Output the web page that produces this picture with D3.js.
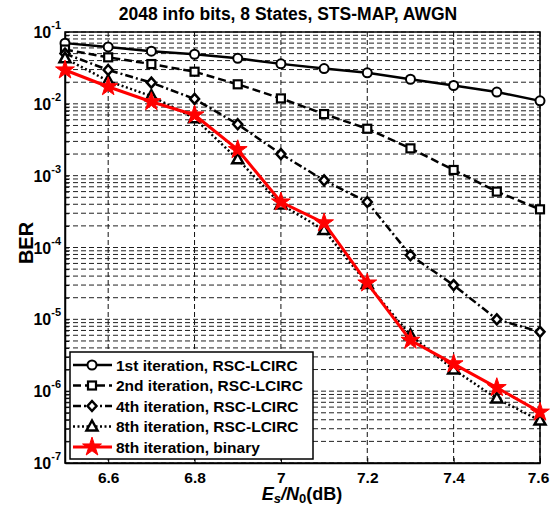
<!DOCTYPE html>
<html>
<head>
<meta charset="utf-8">
<script src="https://cdn.jsdelivr.net/npm/d3@7"></script>
<style>
  body { margin: 0; background: #fff; }
  text { font-family: "Liberation Sans", Arial, sans-serif; font-weight: bold; }
</style>
</head>
<body>
<div id="chart"></div>
<script>
// Es/N0 values (dB)
var snr = [6.5, 6.6, 6.7, 6.8, 6.9, 7.0, 7.1, 7.2, 7.3, 7.4, 7.5, 7.6];

var berIter1 = [0.070, 0.062, 0.054, 0.049, 0.043, 0.036, 0.031, 0.027, 0.022, 0.018, 0.0146, 0.011];
var berIter2 = [0.057, 0.0444, 0.0358, 0.028, 0.0187, 0.0119, 0.0072, 0.0045, 0.0024, 0.0012, 0.00060, 0.00034];
var berIter4 = [0.050, 0.0296, 0.0197, 0.0117, 0.0052, 0.0020, 0.00086, 0.00043, 7.8e-5, 3.0e-5, 1.0e-5, 6.7e-6];
var berIter8 = [0.043, 0.0208, 0.0128, 0.0063, 0.00169, 0.000398, 1.75e-4, 3.1e-5, 6.0e-6, 2.0e-6, 7.9e-7, 3.9e-7];
var berBinary = [0.0296, 0.0173, 0.0107, 0.0070, 0.0023, 0.00043, 2.2e-4, 3.2e-5, 5.1e-6, 2.4e-6, 1.12e-6, 5.1e-7];

var xTicks = [6.6, 6.8, 7.0, 7.2, 7.4, 7.6];
var xTickLabels = ["6.6", "6.8", "7", "7.2", "7.4", "7.6"];
var yExponents = [-1, -2, -3, -4, -5, -6, -7];

var seriesNames = [
  "1st iteration, RSC-LCIRC",
  "2nd iteration, RSC-LCIRC",
  "4th iteration, RSC-LCIRC",
  "8th iteration, RSC-LCIRC",
  "8th iteration, binary"
];

var svgWidth = 550;
var svgHeight = 509;
var margin = { top: 32, right: 10, bottom: 46, left: 65 };
var width = 540 - margin.left;
var height = 463 - margin.top;

var svg = d3.select("#chart")
  .append("svg")
  .attr("width", svgWidth)
  .attr("height", svgHeight);

var chartGroup = svg.append("g")
  .attr("transform", `translate(${margin.left}, ${margin.top})`);

var xScale = d3.scaleLinear().domain([6.5, 7.6]).range([0, width]);
var yScale = d3.scaleLog().domain([1e-7, 1e-1]).range([height, 0]);

// grid lines
var minorVals = [];
yExponents.slice(1).forEach(function(e) {
  for (var k = 1; k <= 9; k++) minorVals.push(k * Math.pow(10, e));
});
minorVals.push(1e-1);

chartGroup.append("g")
  .selectAll("line")
  .data(minorVals)
  .enter()
  .append("line")
  .attr("x1", 0)
  .attr("x2", width)
  .attr("y1", d => yScale(d))
  .attr("y2", d => yScale(d))
  .attr("stroke", "#222")
  .attr("stroke-width", 1)
  .attr("stroke-dasharray", "5,3");

chartGroup.append("g")
  .selectAll("line")
  .data(xTicks)
  .enter()
  .append("line")
  .attr("x1", d => xScale(d))
  .attr("x2", d => xScale(d))
  .attr("y1", 0)
  .attr("y2", height)
  .attr("stroke", "#111")
  .attr("stroke-width", 1)
  .attr("stroke-dasharray", "5,3");

// axes (ticks inside)
var bottomAxis = d3.axisBottom(xScale)
  .tickValues(xTicks)
  .tickFormat((d, i) => xTickLabels[i])
  .tickSizeInner(-5)
  .tickSizeOuter(0)
  .tickPadding(9);

var xAxisG = chartGroup.append("g")
  .attr("transform", `translate(0, ${height})`)
  .call(bottomAxis);
xAxisG.selectAll("text")
  .attr("font-size", "15.5px")
  .attr("fill", "#000");
xAxisG.selectAll(".tick:last-of-type text").attr("dx", "-2");

var leftAxis = d3.axisLeft(yScale)
  .tickValues(minorVals)
  .tickFormat("")
  .tickSizeInner(-4)
  .tickSizeOuter(0);
chartGroup.append("g").call(leftAxis);

// y tick labels as 10^e
var yLab = chartGroup.append("g")
  .selectAll("text")
  .data(yExponents)
  .enter()
  .append("text")
  .attr("x", -4)
  .attr("y", d => yScale(Math.pow(10, d)) + 6)
  .attr("text-anchor", "end")
  .attr("font-size", "16px");
yLab.append("tspan").text("10");
yLab.append("tspan")
  .attr("dy", -9)
  .attr("font-size", "11px")
  .text(d => String(d));

chartGroup.selectAll(".domain").attr("stroke", "#000").attr("stroke-width", 1.5);
chartGroup.selectAll(".tick line").attr("stroke", "#000");

// frame
chartGroup.append("rect")
  .attr("width", width)
  .attr("height", height)
  .attr("fill", "none")
  .attr("stroke", "#000")
  .attr("stroke-width", 1.5);

// series
var seriesData = [berIter1, berIter2, berIter4, berIter8, berBinary];
var styles = [
  { color: "#000", dash: null, width: 2.5, marker: "circle" },
  { color: "#000", dash: "8,4", width: 2.5, marker: "square" },
  { color: "#000", dash: "8,3,2,3", width: 2.5, marker: "diamond" },
  { color: "#000", dash: "2,2.5", width: 2.5, marker: "triangle" },
  { color: "#f00", dash: null, width: 3, marker: "star" }
];

var line = d3.line()
  .x((d, i) => xScale(snr[i]))
  .y(d => yScale(d));

function drawMarker(g, type, color) {
  if (type === "circle") {
    g.append("circle").attr("r", 4.5).attr("fill", "#fff").attr("stroke", color).attr("stroke-width", 2);
  } else if (type === "square") {
    g.append("rect").attr("x", -4).attr("y", -4).attr("width", 8).attr("height", 8)
      .attr("fill", "#fff").attr("stroke", color).attr("stroke-width", 2.2);
  } else if (type === "diamond") {
    g.append("path").attr("d", "M0,-5L4.5,0L0,5L-4.5,0Z")
      .attr("fill", "#fff").attr("stroke", color).attr("stroke-width", 2.5);
  } else if (type === "triangle") {
    g.append("path").attr("d", "M0,-6L5.5,4L-5.5,4Z")
      .attr("fill", "#fff").attr("stroke", color).attr("stroke-width", 2.5);
  } else {
    g.append("path").attr("d", d3.symbol(d3.symbolStar, 110)())
      .attr("fill", color).attr("stroke", color).attr("stroke-width", 1);
  }
}

seriesData.forEach(function(data, s) {
  var st = styles[s];
  chartGroup.append("path")
    .datum(data)
    .attr("d", line)
    .attr("fill", "none")
    .attr("stroke", st.color)
    .attr("stroke-width", st.width)
    .attr("stroke-dasharray", st.dash);
  data.forEach(function(v, i) {
    var g = chartGroup.append("g")
      .attr("transform", `translate(${xScale(snr[i])}, ${yScale(v)})`);
    drawMarker(g, st.marker, st.color);
  });
});

// legend
var legend = svg.append("g").attr("transform", "translate(70, 352)");
legend.append("rect")
  .attr("width", 243)
  .attr("height", 107)
  .attr("fill", "#fff")
  .attr("stroke", "#000")
  .attr("stroke-width", 1.5);

seriesNames.forEach(function(name, s) {
  var st = styles[s];
  var y = 13 + s * 20.5;
  legend.append("line")
    .attr("x1", 3).attr("x2", 42)
    .attr("y1", y).attr("y2", y)
    .attr("stroke", st.color)
    .attr("stroke-width", st.width)
    .attr("stroke-dasharray", st.dash);
  var g = legend.append("g").attr("transform", `translate(22, ${y})`);
  drawMarker(g, st.marker, st.color);
  legend.append("text")
    .attr("x", 46)
    .attr("y", y + 5.5)
    .attr("font-size", "15.5px")
    .text(name);
});

// title and labels
svg.append("text")
  .attr("x", 288)
  .attr("y", 20)
  .attr("text-anchor", "middle")
  .attr("font-size", "17.5px")
  .text("2048 info bits, 8 States, STS-MAP, AWGN");

svg.append("text")
  .attr("transform", "rotate(-90)")
  .attr("x", -243)
  .attr("y", 33)
  .attr("text-anchor", "middle")
  .attr("font-size", "20px")
  .text("BER");

var xl = svg.append("text")
  .attr("x", 302)
  .attr("y", 500)
  .attr("text-anchor", "middle")
  .attr("font-size", "18px");
xl.append("tspan").attr("font-style", "italic").text("E");
xl.append("tspan").attr("font-style", "italic").attr("font-size", "13px").attr("dy", 3).text("s");
xl.append("tspan").attr("font-style", "italic").attr("dy", -3).text("/N");
xl.append("tspan").attr("font-size", "13px").attr("dy", 3).text("0");
xl.append("tspan").attr("dy", -3).text("(dB)");
</script>
</body>
</html>
